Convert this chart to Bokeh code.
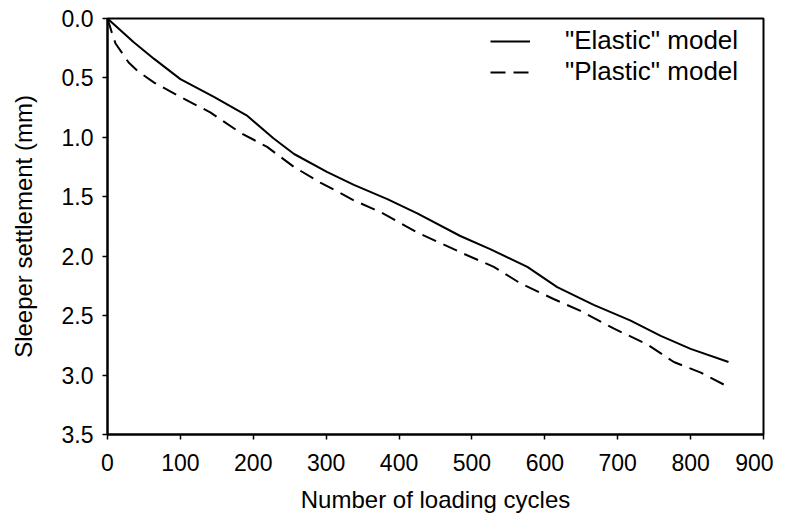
from bokeh.plotting import figure
from bokeh.models import Range1d, FixedTicker, NumeralTickFormatter, Legend, LegendItem
from bokeh.embed import file_html
from bokeh.resources import INLINE

# ---- data ----
elastic_x = [0, 36, 64, 100, 146, 192, 228, 256, 301, 338, 384, 425, 484, 525, 576, 617, 667, 717, 759, 800, 852]
elastic_y = [0, 0.20, 0.34, 0.51, 0.66, 0.82, 1.01, 1.14, 1.29, 1.40, 1.52, 1.64, 1.83, 1.94, 2.09, 2.26, 2.41, 2.54, 2.67, 2.78, 2.89]

plastic_x = [0, 5, 11, 29, 41, 64, 100, 141, 182, 219, 256, 292, 338, 375, 425, 489, 530, 567, 612, 649, 695, 740, 777, 814, 852]
plastic_y = [0, 0.10, 0.21, 0.37, 0.44, 0.54, 0.66, 0.79, 0.96, 1.08, 1.25, 1.38, 1.53, 1.63, 1.80, 1.98, 2.09, 2.23, 2.36, 2.46, 2.61, 2.74, 2.89, 2.98, 3.10]

x_ticks = [0, 100, 200, 300, 400, 500, 600, 700, 800, 900]
y_ticks = [0.0, 0.5, 1.0, 1.5, 2.0, 2.5, 3.0, 3.5]

series_labels = ['"Elastic" model', '"Plastic" model']
x_title = "Number of loading cycles"
y_title = "Sleeper settlement (mm)"

FONT = "Liberation Sans"
FS = "23px"
TFS = "24px"

p = figure(frame_width=656, frame_height=416,
           min_border_left=107, min_border_right=10, min_border_top=18, min_border_bottom=82,
           x_range=Range1d(0, 900), y_range=Range1d(3.5, 0),
           output_backend="svg", toolbar_location=None)

p.xgrid.visible = False
p.ygrid.visible = False
p.background_fill_color = "white"
p.border_fill_color = "white"
p.outline_line_color = "black"
p.outline_line_width = 2
p.outline_line_alpha = 1.0

for ax in (p.xaxis[0], p.yaxis[0]):
    ax.axis_line_color = "black"
    ax.axis_line_width = 2
    ax.major_tick_line_color = "black"
    ax.major_tick_line_width = 1.5
    ax.major_tick_in = 0
    ax.major_tick_out = 5
    ax.minor_tick_line_color = None
    ax.major_label_text_font = FONT
    ax.major_label_text_font_size = FS
    ax.major_label_text_color = "black"
    ax.axis_label_text_font = FONT
    ax.axis_label_text_font_size = TFS
    ax.axis_label_text_font_style = "normal"
    ax.axis_label_text_color = "black"

p.xaxis[0].ticker = FixedTicker(ticks=x_ticks)
p.yaxis[0].ticker = FixedTicker(ticks=y_ticks)
p.yaxis[0].formatter = NumeralTickFormatter(format="0.0")
p.xaxis[0].axis_label = x_title
p.yaxis[0].axis_label = y_title
p.xaxis[0].major_label_standoff = 14
p.xaxis[0].axis_label_standoff = 12
p.yaxis[0].major_label_standoff = 9
p.yaxis[0].axis_label_standoff = 22

r1 = p.line(elastic_x, elastic_y, line_color="black", line_width=2)
r2 = p.line(plastic_x, plastic_y, line_color="black", line_width=2, line_dash="15 8")

legend = Legend(items=[LegendItem(label=series_labels[0], renderers=[r1]),
                       LegendItem(label=series_labels[1], renderers=[r2])],
                location=(383, 347))
legend.border_line_color = None
legend.background_fill_alpha = 0
legend.padding = 0
legend.margin = 0
legend.spacing = 0
legend.glyph_width = 40
legend.glyph_height = 28
legend.label_height = 28
legend.label_standoff = 35
legend.label_text_font = FONT
legend.label_text_font_size = "26px"
legend.label_text_color = "black"
p.add_layout(legend, "center")

open("out.html", "w").write(file_html(p, INLINE))
